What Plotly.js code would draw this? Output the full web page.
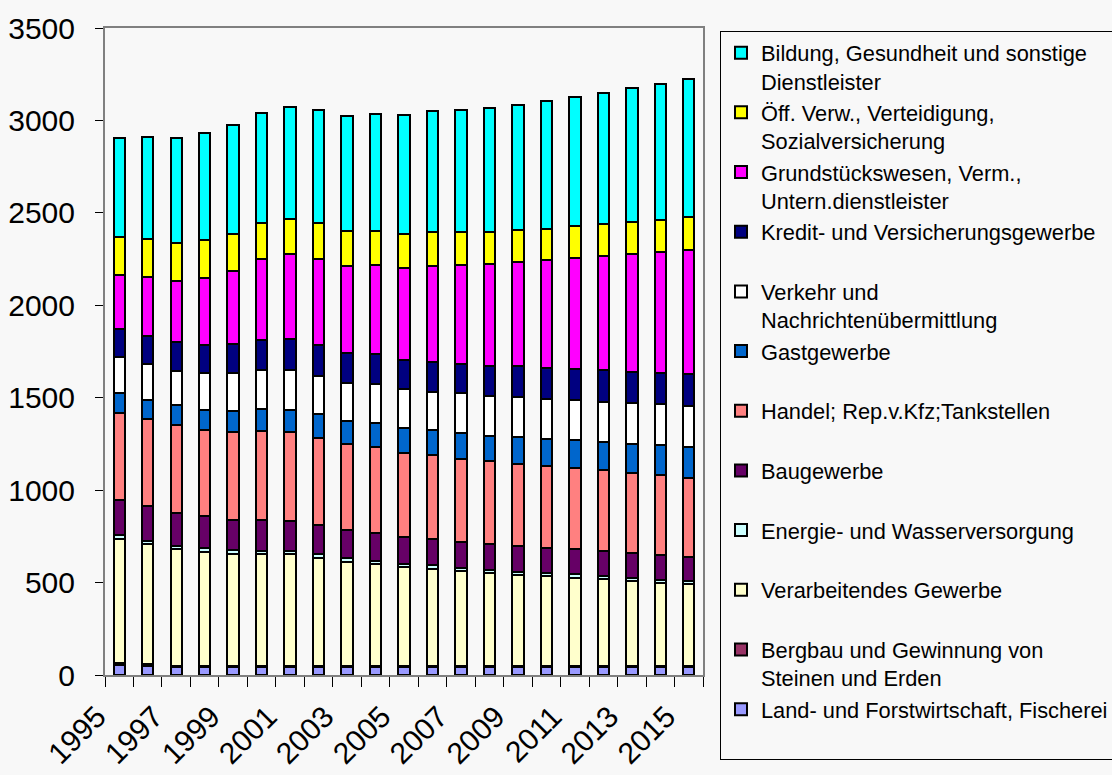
<!DOCTYPE html>
<html>
<head>
<meta charset="utf-8">
<script src="https://cdn.plot.ly/plotly-3.0.1.min.js"></script>
<style>html,body{margin:0;padding:0;background:#f8f8f8;}#chart{width:1112px;height:775px;}</style>
</head>
<body>
<div id="chart"></div>
<script>
const years = ["1995","1996","1997","1998","1999","2000","2001","2002","2003","2004","2005","2006","2007","2008","2009","2010","2011","2012","2013","2014","2015"];

const land      = [52, 48, 45, 44, 44, 44, 44, 44, 44, 44, 43, 43, 43, 43, 43, 43, 43, 43, 43, 43, 43];
const bergbau   = [13, 10, 6, 6, 6, 6, 6, 6, 6, 6, 5, 5, 5, 5, 5, 5, 5, 5, 5, 5, 5];
const verarb    = [669, 649, 631, 618, 606, 604, 603, 585, 563, 549, 535, 527, 514, 502, 495, 488, 479, 469, 460, 449, 442];
const energie   = [25, 18, 18, 19, 20, 17, 18, 18, 20, 17, 19, 18, 17, 18, 16, 18, 17, 17, 16, 17, 16];
const bau       = [185, 188, 177, 173, 165, 170, 164, 161, 150, 152, 145, 141, 140, 139, 141, 133, 138, 135, 136, 133, 131];
const handel    = [476, 473, 475, 464, 471, 480, 480, 469, 467, 466, 455, 455, 452, 448, 444, 442, 437, 439, 433, 435, 431];
const gast      = [103, 101, 106, 110, 115, 116, 119, 127, 125, 127, 133, 134, 137, 139, 144, 147, 151, 153, 159, 160, 163];
const verkehr   = [195, 197, 188, 198, 205, 211, 214, 209, 206, 211, 213, 209, 215, 215, 215, 216, 217, 215, 219, 222, 222];
const kredit    = [152, 151, 154, 153, 158, 164, 168, 164, 162, 163, 154, 163, 161, 164, 166, 170, 170, 172, 169, 171, 173];
const grundst   = [294, 317, 333, 365, 397, 439, 462, 469, 472, 483, 500, 520, 533, 549, 564, 583, 599, 619, 640, 655, 674];
const oeff      = [208, 207, 206, 202, 201, 196, 191, 192, 189, 186, 184, 182, 180, 175, 173, 170, 174, 175, 171, 172, 175];
const bildung   = [533, 551, 566, 580, 585, 593, 605, 614, 620, 631, 643, 656, 661, 668, 679, 690, 697, 708, 722, 737, 749];

const seriesNames = [
  "Land- und Forstwirtschaft, Fischerei<br> ",
  "Bergbau und Gewinnung von<br>Steinen und Erden",
  "Verarbeitendes Gewerbe<br> ",
  "Energie- und Wasserversorgung<br> ",
  "Baugewerbe<br> ",
  "Handel; Rep.v.Kfz;Tankstellen<br> ",
  "Gastgewerbe<br> ",
  "Verkehr und<br>Nachrichtenübermittlung",
  "Kredit- und Versicherungsgewerbe<br> ",
  "Grundstückswesen, Verm.,<br>Untern.dienstleister",
  "Öff. Verw., Verteidigung,<br>Sozialversicherung",
  "Bildung, Gesundheit und sonstige<br>Dienstleister"
];
const seriesValues = [land, bergbau, verarb, energie, bau, handel, gast, verkehr, kredit, grundst, oeff, bildung];
const seriesColors = ["#9999ff","#993366","#ffffcc","#ccffff","#660066","#ff8080","#0066cc","#ffffff","#000080","#ff00ff","#ffff00","#00ffff"];

const FONT = "Liberation Sans, Arial, sans-serif";

const traces = seriesValues.map((vals, i) => ({
  type: "bar",
  name: seriesNames[i],
  x: years,
  y: vals,
  marker: { color: seriesColors[i], line: { color: "#000000", width: 2 } },
  hoverinfo: "x+y+name"
}));

const layout = {
  width: 1112,
  height: 775,
  barmode: "stack",
  bargap: 0.6,
  paper_bgcolor: "#f8f8f8",
  plot_bgcolor: "#f8f8f8",
  font: { family: FONT, size: 30, color: "#000000" },
  margin: { l: 105, r: 409, t: 28, b: 100, pad: 0 },
  showlegend: true,
  legend: {
    xref: "container", yref: "container",
    x: 720 / 1112, xanchor: "left",
    y: 1 - 31 / 775, yanchor: "top",
    maxheight: 740,
    traceorder: "reversed",
    valign: "top",
    bgcolor: "#f8f8f8",
    bordercolor: "#000000",
    borderwidth: 1,
    font: { family: FONT, size: 21.8, color: "#000000" }
  },
  xaxis: {
    type: "category",
    tickmode: "linear",
    tick0: 0,
    dtick: 1,
    tickangle: -45,
    ticks: "outside",
    tickson: "boundaries",
    ticklen: 10,
    tickwidth: 1,
    tickcolor: "#000000",
    ticklabelstep: 2,
    ticklabelshift: -22,
    ticklabelstandoff: 10,
    showline: true,
    linecolor: "#808080",
    linewidth: 2,
    mirror: true,
    showgrid: false,
    zeroline: false,
    tickfont: { family: FONT, size: 30, color: "#000000" }
  },
  yaxis: {
    range: [0, 3500],
    dtick: 500,
    tick0: 0,
    ticks: "outside",
    ticklen: 8,
    tickwidth: 1,
    tickcolor: "#000000",
    ticklabelstandoff: 14,
    showline: true,
    linecolor: "#808080",
    linewidth: 2,
    mirror: true,
    showgrid: false,
    zeroline: false,
    tickfont: { family: FONT, size: 30, color: "#000000" }
  }
};

Plotly.newPlot("chart", traces, layout, { displayModeBar: false, staticPlot: true });
</script>
</body>
</html>
